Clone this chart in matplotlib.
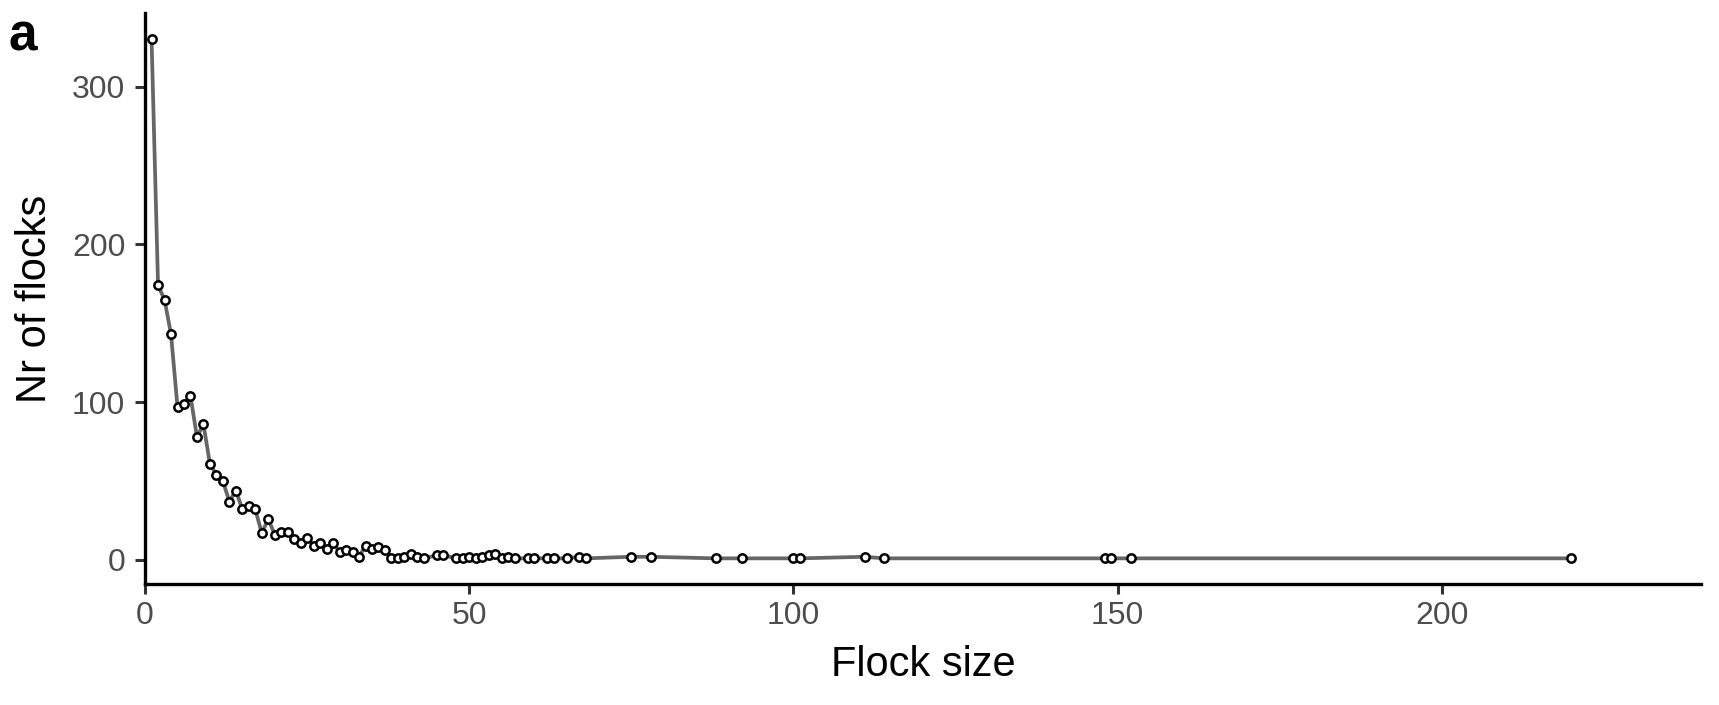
"""
Flock size distribution
"""

import matplotlib
matplotlib.use("Agg")
import matplotlib.pyplot as plt

# %%
# Data
flock_size = [
    1, 2, 3, 4, 5, 6, 7, 8, 9, 10, 11, 12, 13, 14, 15, 16, 17, 18, 19, 20,
    21, 22, 23, 24, 25, 26, 27, 28, 29, 30, 31, 32, 33, 34, 35, 36, 37, 38,
    39, 40, 41, 42, 43, 45, 46, 48, 49, 50, 51, 52, 53, 54, 55, 56, 57, 59,
    60, 62, 63, 65, 67, 68, 75, 78, 88, 92, 100, 101, 111, 114, 148, 149,
    152, 220,
]
nr_flocks = [
    330, 174, 165, 143, 97, 99, 104, 78, 86, 61, 54, 50, 37, 44, 32, 34, 32,
    17, 26, 16, 18, 18, 13, 11, 14, 9, 11, 7, 11, 5, 6, 5, 2, 9, 7, 8, 6, 1,
    1, 2, 4, 2, 1, 3, 3, 1, 1, 2, 1, 2, 3, 4, 1, 2, 1, 1,
    1, 1, 1, 1, 2, 1, 2, 2, 1, 1, 1, 1, 2, 1, 1, 1,
    1, 1,
]
x_ticks = [0, 50, 100, 150, 200]
y_ticks = [0, 100, 200, 300]

plt.rcParams["font.family"] = ["Liberation Sans", "DejaVu Sans"]

fig = plt.figure(figsize=(17.19, 7.05), dpi=100)
ax = fig.add_axes([0.0844, 0.1712, 0.9052, 0.8098])

ax.plot(flock_size, nr_flocks, color="#666666", lw=2.7, zorder=2)
ax.plot(flock_size, nr_flocks, ls="none", marker="o", ms=6,
        mfc="white", mec="black", mew=1.8, zorder=3)

ax.set_xlim(0, 240)
ax.set_ylim(-15.45, 346.45)
ax.set_xticks(x_ticks)
ax.set_yticks(y_ticks)

for side in ["top", "right"]:
    ax.spines[side].set_visible(False)
for side in ["left", "bottom"]:
    ax.spines[side].set_linewidth(2.4)
    ax.spines[side].set_color("black")

ax.tick_params(axis="both", length=7.2, width=2.2, color="#333333",
               labelsize=23, labelcolor="#4D4D4D")
ax.tick_params(axis="x", pad=5)
ax.tick_params(axis="y", pad=7)

ax.set_xlabel("Flock size", fontsize=30, labelpad=10)
ax.set_ylabel("Nr of flocks", fontsize=30, labelpad=12)

fig.text(0.005, 0.947, "a", fontsize=37, fontweight="bold", va="center")

fig.savefig("out.png", dpi=100)
